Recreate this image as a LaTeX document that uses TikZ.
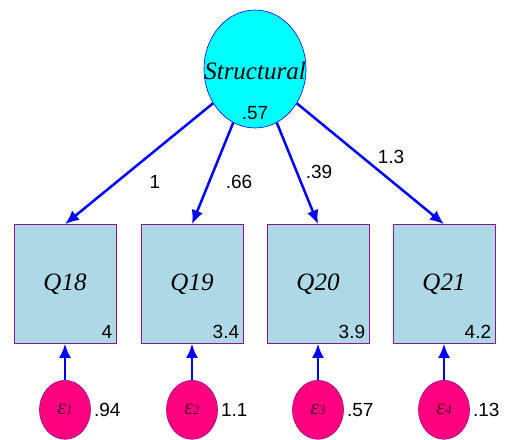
\documentclass[tikz,border=0pt]{standalone}
\usepackage{fontspec}
\setmainfont{Liberation Serif}
\newfontfamily\numfont{Liberation Sans}
\usetikzlibrary{arrows.meta,shapes.geometric,positioning}
\definecolor{latfill}{RGB}{0,255,255}
\definecolor{boxfill}{RGB}{173,216,230}
\definecolor{boxline}{RGB}{140,20,140}
\definecolor{errfill}{RGB}{255,0,128}
\definecolor{errtext}{RGB}{90,0,40}
\tikzset{
  latent/.style={ellipse,draw=blue,semithick,fill=latfill,minimum width=102pt,minimum height=118pt,inner sep=0pt},
  latname/.style={inner sep=0pt,font=\fontsize{25}{25}\selectfont\itshape},
  observed/.style={rectangle,draw=boxline,semithick,fill=boxfill,minimum width=102pt,minimum height=119pt,inner sep=0pt,font=\fontsize{25}{25}\selectfont\itshape},
  errvar/.style={ellipse,draw=boxline,semithick,fill=errfill,minimum width=51pt,minimum height=59pt,inner sep=0pt,text=errtext,font=\fontsize{22}{22}\selectfont\itshape},
  coef/.style={font=\numfont\fontsize{19}{19}\selectfont,inner sep=1pt},
  path/.style={draw=blue,line width=2.5pt,-{Latex[length=14pt,width=12pt]}}
}
\begin{document}
\begin{tikzpicture}[x=1pt,y=-1pt]
\useasboundingbox (0,0) rectangle (505,439);
% latent variable
\node[latent] (S) at (255,69) {};
\node[latname] (Sname) at (255,71) {Structural};
\node[coef] (Svar) at (255,113) {.57};
% indicators
\node[observed] (Q18) at (65,284) {Q18};
\node[observed] (Q19) at (192,284) {Q19};
\node[observed] (Q20) at (318,284) {Q20};
\node[observed] (Q21) at (444,284) {Q21};
\node[coef,anchor=south east] (m18) at ([xshift=-3pt,yshift=4pt]Q18.south east) {4};
\node[coef,anchor=south east] (m19) at ([xshift=-3pt,yshift=4pt]Q19.south east) {3.4};
\node[coef,anchor=south east] (m20) at ([xshift=-3pt,yshift=4pt]Q20.south east) {3.9};
\node[coef,anchor=south east] (m21) at ([xshift=-3pt,yshift=4pt]Q21.south east) {4.2};
% errors
\foreach \q/\i/\v in {Q18/1/.94,Q19/2/1.1,Q20/3/.57,Q21/4/.13}{
  \node[errvar] (e\i) at ([yshift=-66pt]\q.south) {\raisebox{-8pt}{ε\fontsize{13}{13}\selectfont\i}};
  \node[coef,right=2pt of e\i] (v\i) {\v};
  \draw[path] (e\i) -- (\q);
}
% loadings
\draw[path] (S) -- (Q18.north);
\draw[path] (S) -- (Q19.north);
\draw[path] (S) -- (Q20.north);
\draw[path] (S) -- (Q21.north);
\node[coef] (l18) at (155,182) {1};
\node[coef] (l19) at (239,182) {.66};
\node[coef] (l20) at (319,172) {.39};
\node[coef] (l21) at (391,157) {1.3};
\end{tikzpicture}
\end{document}
